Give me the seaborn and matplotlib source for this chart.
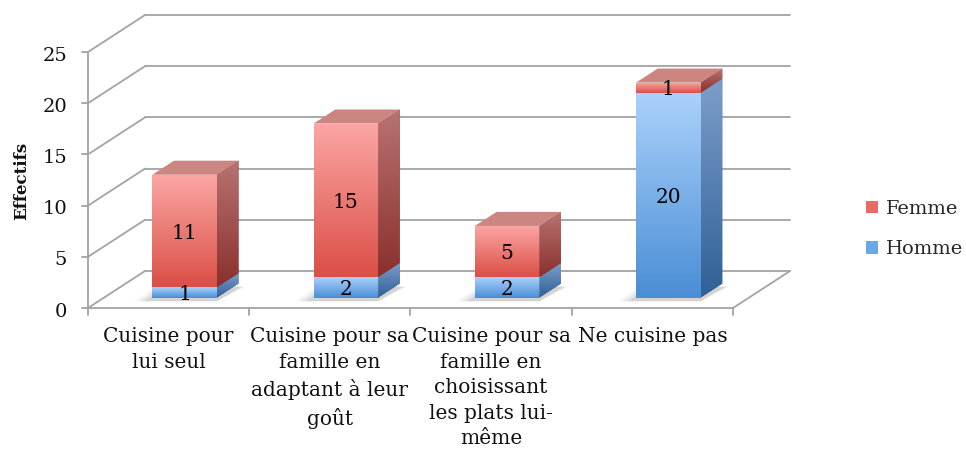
import numpy as np
import matplotlib
matplotlib.use("Agg")
import matplotlib.pyplot as plt
from matplotlib.patches import Polygon, Patch
from matplotlib.colors import to_rgb
import seaborn as sns
import pandas as pd

# ---------------- data ----------------
categories = ["Cuisine pour\nlui seul",
              "Cuisine pour sa\nfamille en\nadaptant à leur\ngoût",
              "Cuisine pour sa\nfamille en\nchoisissant\nles plats lui-\nmême",
              "Ne cuisine pas"]
homme = [1, 2, 2, 20]
femme = [11, 15, 5, 1]
series_labels = ["Femme", "Homme"]
y_ticks = [0, 5, 10, 15, 20, 25]
y_label = "Effectifs"

# ---------------- style ----------------
sns.set_theme(style="white")
plt.rcParams['font.family'] = ['DejaVu Serif']

RED = dict(front=("#FBA6A3", "#DB4F47"), side=("#B87373", "#8A302C"), top="#CB8682", solid="#E66C66")
BLUE = dict(front=("#AAD1FB", "#4A8ED6"), side=("#7C9DCA", "#2F6097"), top="#8FAFD8", solid="#6EA7E8")
GRID = "#A3A3A3"

fig = plt.figure(figsize=(9.66, 4.49), dpi=100)
ax = fig.add_axes([0, 0, 1, 1])

# geometry (oblique projection)
PX_CAT, PX_VAL = 161.25, 10.24
X0PX, Y0PX = 88, 308
DX, DY = 57 / PX_CAT, 37 / PX_VAL
D0, D1 = 0.28, 0.66
BAR_W = 0.40
n = len(categories)
ymax = y_ticks[-1]

xpos = np.arange(n) + D0 * DX
df = pd.DataFrame({"x": xpos, "homme": homme, "femme": femme})
df["base"] = D0 * DY
df["base_f"] = df["base"] + df["homme"]


def grad_image(clip_patch, verts, c_top, c_bot, z):
    verts = np.asarray(verts)
    x0, x1 = verts[:, 0].min(), verts[:, 0].max()
    y0, y1 = verts[:, 1].min(), verts[:, 1].max()
    t = np.linspace(0, 1, 64)[:, None]
    ct, cb = np.array(to_rgb(c_top)), np.array(to_rgb(c_bot))
    img = (ct * (1 - t) + cb * t)[:, None, :]
    im = ax.imshow(img, extent=[x0, x1, y0, y1], origin="upper", aspect="auto",
                   interpolation="bilinear", zorder=z)
    im.set_clip_path(clip_patch)


# ---------------- walls / floor ----------------
for v in y_ticks:
    ax.plot([-0.5 + DX, n - 0.5 + DX], [v + DY, v + DY], color=GRID, lw=1.3, zorder=1)
    ax.plot([-0.5, -0.5 + DX], [v, v + DY], color=GRID, lw=1.3, zorder=1)
    ax.plot([-0.5 - 6 / PX_CAT, -0.5], [v, v], color=GRID, lw=1.3, zorder=1)
    ax.text(-0.5 - 21 / PX_CAT, v - 0.35, str(v), ha="right", va="center", fontsize=14, color="#111111")
ax.plot([-0.5, -0.5], [0, ymax], color=GRID, lw=1.3, zorder=1)
ax.plot([-0.5, n - 0.5], [0, 0], color=GRID, lw=1.3, zorder=1)
ax.plot([n - 0.5, n - 0.5 + DX], [0, DY], color=GRID, lw=1.3, zorder=1)
for i in range(n + 1):
    ax.plot([i - 0.5, i - 0.5], [0, -7 / PX_VAL], color=GRID, lw=1.3, zorder=1)

# ---------------- bars (front faces via seaborn) ----------------
k0 = len(ax.patches)
sns.barplot(data=df, x="x", y="homme", native_scale=True, orient="x", width=BAR_W,
            bottom=df["base"].values, errorbar=None, color=BLUE["solid"], ax=ax,
            linewidth=0, zorder=3)
k1 = len(ax.patches)
sns.barplot(data=df, x="x", y="femme", native_scale=True, orient="x", width=BAR_W,
            bottom=df["base_f"].values, errorbar=None, color=RED["solid"], ax=ax,
            linewidth=0, zorder=3)
k2 = len(ax.patches)
h_patches = ax.patches[k0:k1]
f_patches = ax.patches[k1:k2]

ddx, ddy = (D1 - D0) * DX, (D1 - D0) * DY

for i in range(n):
    hp, fp = h_patches[i], f_patches[i]
    x, w = hp.get_x(), hp.get_width()
    # soft shadow on the floor, cast to the left
    yb = hp.get_y()
    for s, a in [(0.11, 0.08), (0.08, 0.12), (0.05, 0.16)]:
        sh = [(x - s, yb - 0.35), (x + w, yb - 0.35), (x + w + ddx + s * 0.4, yb + ddy - 0.3),
              (x - s + ddx, yb + ddy - 0.3)]
        ax.add_patch(Polygon(sh, closed=True, facecolor="#7a7a7a", edgecolor="none",
                             alpha=a, zorder=2))
    for p, col in [(hp, BLUE), (fp, RED)]:
        y, h = p.get_y(), p.get_height()
        if h <= 0:
            continue
        fverts = [(x, y), (x + w, y), (x + w, y + h), (x, y + h)]
        grad_image(p, fverts, col["front"][0], col["front"][1], 3.1)
        sverts = [(x + w, y), (x + w + ddx, y + ddy), (x + w + ddx, y + h + ddy), (x + w, y + h)]
        sp = Polygon(sverts, closed=True, facecolor=col["side"][1], edgecolor="none", zorder=3)
        ax.add_patch(sp)
        grad_image(sp, sverts, col["side"][0], col["side"][1], 3.1)
    top = fp.get_y() + fp.get_height()
    tverts = [(x, top), (x + ddx, top + ddy), (x + w + ddx, top + ddy), (x + w, top)]
    ax.add_patch(Polygon(tverts, closed=True, facecolor=RED["top"], edgecolor="none", zorder=3.2))
    for p, val in [(hp, homme[i]), (fp, femme[i])]:
        ax.text(x + w / 2, p.get_y() + p.get_height() / 2 - 0.2, str(val), ha="center", va="center",
                fontsize=14.5, color="black", zorder=5)

# ---------------- text ----------------
for i, lab in enumerate(categories):
    ax.text(i, -1.85, lab, ha="center", va="top", fontsize=14.5, linespacing=1.44,
            color="#111111")
ax.text((22 - X0PX) / PX_CAT - 0.5, (Y0PX - 181) / PX_VAL, y_label, rotation=90,
        ha="center", va="center", fontsize=12, fontweight="bold", color="#111111")

handles = [Patch(facecolor=RED["solid"], edgecolor="none"),
           Patch(facecolor=BLUE["solid"], edgecolor="none")]
ax.legend(handles, series_labels, loc="center left", bbox_to_anchor=(866 / 966, 1 - 229 / 449),
          frameon=False, handlelength=0.62, handleheight=0.62, handletextpad=0.4,
          labelspacing=1.15, fontsize=14, borderaxespad=0, borderpad=0)

ax.set_xlim(-0.5 - X0PX / PX_CAT, -0.5 + (966 - X0PX) / PX_CAT)
ax.set_ylim((Y0PX - 449) / PX_VAL, Y0PX / PX_VAL)
ax.axis("off")

fig.savefig("out.png", dpi=100)
